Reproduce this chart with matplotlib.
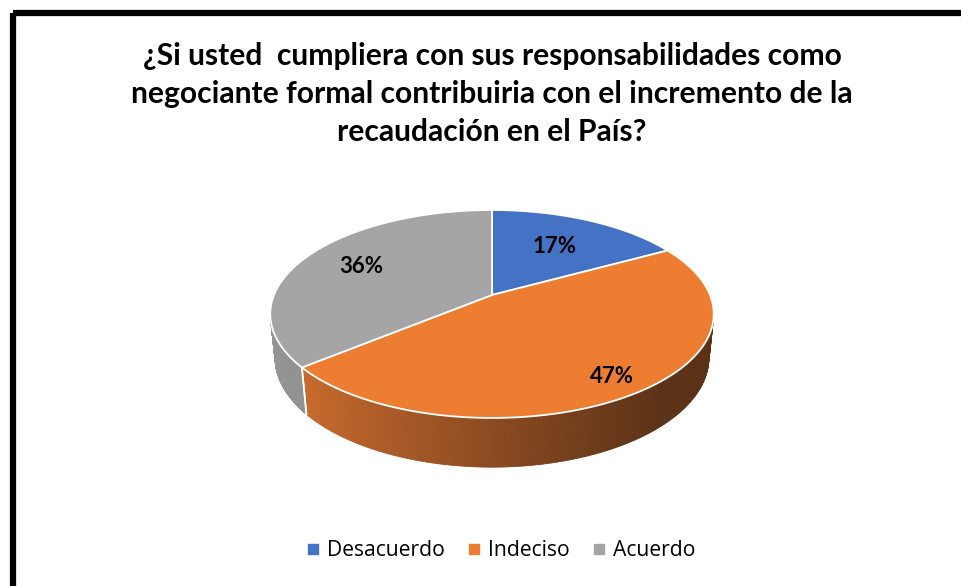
import numpy as np
import matplotlib
matplotlib.use("Agg")
import matplotlib.pyplot as plt
from matplotlib.patches import Polygon, Rectangle
from matplotlib.collections import PolyCollection
from matplotlib.lines import Line2D
import matplotlib.colors as mcolors

# ---------------- data ----------------
categories = ["Desacuerdo", "Indeciso", "Acuerdo"]
values = [17, 47, 36]
labels = ["17%", "47%", "36%"]
title = "¿Si usted  cumpliera con sus responsabilidades como\nnegociante formal contribuiria con el incremento de la\nrecaudación en el País?"

# ---------------- style ----------------
top_colors = ["#4472C4", "#ED7D31", "#A5A5A5"]
side_dark = ["#2F528F", "#5C3216", "#8A8A8A"]
side_light = ["#4A7BD0", "#C96A2D", "#959595"]
label_radius = [0.62, 0.85, 0.7]

W, H = 962, 586
fig = plt.figure(figsize=(W / 100, H / 100), dpi=100)
ax = fig.add_axes([0, 0, 1, 1])
ax.set_xlim(0, W)
ax.set_ylim(H, 0)
ax.axis("off")

# projection of a 3D pie (pixel space)
cx, cy, scale = 492.0, 295.0, 218.0
sin_phi = 0.461
cos_phi = np.sqrt(1 - sin_phi ** 2)
Dcam = 4.86
depth_h = 0.227


def proj(X, Y, Z):
    d = Dcam + Y * cos_phi - Z * sin_phi
    f = Dcam / d
    sx = X * f
    sy = (Y * sin_phi + Z * cos_phi) * f
    return cx + scale * sx, cy - scale * sy


def rim(theta_deg, z=0.0, r=1.0):
    t = np.radians(theta_deg)
    return proj(r * np.sin(t), r * np.cos(t), z)


fracs = np.array(values, dtype=float) / np.sum(values)
bounds = np.concatenate([[0], np.cumsum(fracs)]) * 360.0

# visible side range
cmin = -1.0 / (Dcam * cos_phi)
vis0 = np.degrees(np.arccos(cmin))
vis1 = 360 - vis0

# sides
for i in range(len(values)):
    a, b = bounds[i], bounds[i + 1]
    lo, hi = max(a, vis0), min(b, vis1)
    if hi <= lo:
        continue
    th = np.linspace(lo, hi, 200)
    polys, cols = [], []
    c0 = np.array(mcolors.to_rgb(side_light[i]))
    c1 = np.array(mcolors.to_rgb(side_dark[i]))
    for k in range(len(th) - 1):
        p1 = rim(th[k]); p2 = rim(th[k + 1])
        p3 = rim(th[k + 1], -depth_h); p4 = rim(th[k], -depth_h)
        polys.append([p1, p2, p3, p4])
        xm = (p1[0] + p2[0]) / 2
        t = np.clip((xm - 300) / (660 - 300), 0, 1)
        if i == 2:
            t = np.clip((xm - 270) / (310 - 270), 0, 1) * 0.4
        cols.append(c0 + (c1 - c0) * t ** 0.9)
    pc = PolyCollection(polys, facecolors=cols, edgecolors=cols, linewidths=0.6, zorder=1)
    ax.add_collection(pc)
    # vertical white separator at slice boundary on side
    for e in (a, b):
        if vis0 < e < vis1:
            x0, y0 = rim(e)
            x1, y1 = rim(e, -depth_h)
            ax.plot([x0, x1], [y0, y1], color="white", lw=1.2, zorder=2)

# tops
for i in range(len(values)):
    a, b = bounds[i], bounds[i + 1]
    th = np.linspace(a, b, 200)
    pts = [proj(0, 0, 0)] + [rim(t) for t in th]
    ax.add_patch(Polygon(pts, closed=True, facecolor=top_colors[i],
                         edgecolor="white", lw=1.3, zorder=3))

# labels
for i in range(len(values)):
    mid = (bounds[i] + bounds[i + 1]) / 2
    lx, ly = rim(mid, 0.0, label_radius[i])
    ax.text(lx, ly, labels[i], ha="center", va="center", fontsize=16,
            fontweight="bold", family="Lato", color="black", zorder=5)

# title
ax.text(492, 94, title, ha="center", va="center", fontsize=21.6,
        fontweight="bold", family="Lato", linespacing=1.45, color="black")

# frame (partially visible)
ax.add_patch(Rectangle((13, 13), W + 50, H + 50, fill=False, edgecolor="black",
                       lw=4.5, zorder=6))

# legend
handles = [Line2D([], [], marker="s", linestyle="none", markersize=7,
                  markerfacecolor=c, markeredgecolor=c) for c in top_colors]
fig.legend(handles, categories, loc="center", bbox_to_anchor=(499 / W, 1 - 551 / H),
           ncol=3, frameon=False, prop={"family": "Open Sans", "size": 15.2},
           handletextpad=0.15, columnspacing=0.9, handlelength=1.0)

fig.savefig("out.png", dpi=100, facecolor="white")
